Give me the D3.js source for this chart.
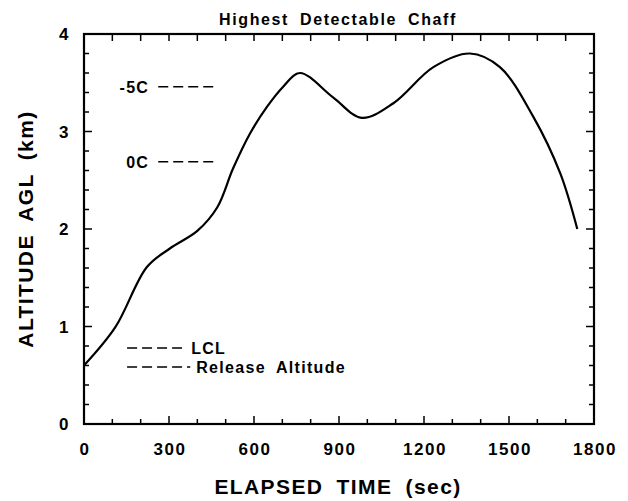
<!DOCTYPE html>
<html>
<head>
    <script src="https://d3js.org/d3.v7.min.js"></script>
    <style>
        body {margin: 0; background: #fff; font-family: Arial, Helvetica, sans-serif;}
        .tick-label {font-size: 17px; font-weight: bold; letter-spacing: 1.5px;}
        .axis-title {font-size: 21px; font-weight: bold; letter-spacing: 1.4px; word-spacing: 6px;}
        .note {font-size: 16px; font-weight: bold; letter-spacing: 1.3px; word-spacing: 5px;}
        .chart-title {font-size: 16px; font-weight: bold; letter-spacing: 1.6px; word-spacing: 5px;}
    </style>
</head>
<body>
    <svg width="628" height="501"></svg>
    <script>
        // Chaff top altitude over time
        let times = [0, 110, 222, 303, 400, 470, 526, 586, 645, 703, 762, 879, 980, 1092, 1233, 1362, 1468, 1586, 1681, 1741];
        let altitudes = [0.6, 0.99, 1.61, 1.80, 1.98, 2.22, 2.62, 2.98, 3.25, 3.46, 3.60, 3.35, 3.14, 3.29, 3.66, 3.80, 3.66, 3.15, 2.57, 2.0];

        let xTicks = [0, 300, 600, 900, 1200, 1500, 1800];
        let yTicks = [0, 1, 2, 3, 4];

        // short dashed reference levels (label, altitude, start, end in sec)
        let levelNames = ["-5C", "0C"];
        let levelAlts = [3.46, 2.69];
        let levelStart = [262, 262];
        let levelEnd = [465, 465];

        // legend-style dashed entries in the lower left
        let keyNames = ["LCL", "Release Altitude"];
        let keyAlts = [0.78, 0.585];
        let keyStart = [152, 152];
        let keyEnd = [357, 375];

        let svg = d3.select("svg");
        let plotL = 84, plotR = 594, plotT = 34, plotB = 424;

        let x = d3.scaleLinear().domain([0, 1800]).range([plotL, plotR]);
        let y = d3.scaleLinear().domain([0, 4]).range([plotB, plotT]);

        // frame
        svg.append("rect")
            .attr("x", plotL).attr("y", plotT)
            .attr("width", plotR - plotL).attr("height", plotB - plotT)
            .attr("fill", "none").attr("stroke", "#000").attr("stroke-width", 2.2);

        // inward ticks on all four sides
        let xMinor = d3.range(0, 1801, 100);
        let yMinor = d3.range(0, 4.01, 0.2);
        xMinor.forEach(t => {
            let len = t % 300 === 0 ? 8 : 5;
            svg.append("line").attr("x1", x(t)).attr("x2", x(t))
                .attr("y1", plotB).attr("y2", plotB - len)
                .attr("stroke", "#000").attr("stroke-width", 1.5);
            svg.append("line").attr("x1", x(t)).attr("x2", x(t))
                .attr("y1", plotT).attr("y2", plotT + 7)
                .attr("stroke", "#000").attr("stroke-width", 1.5);
        });
        yMinor.forEach(v => {
            let major = Math.abs(v - Math.round(v)) < 1e-6;
            let len = major ? 8 : 5;
            svg.append("line").attr("y1", y(v)).attr("y2", y(v))
                .attr("x1", plotL).attr("x2", plotL + len)
                .attr("stroke", "#000").attr("stroke-width", 1.5);
            svg.append("line").attr("y1", y(v)).attr("y2", y(v))
                .attr("x1", plotR).attr("x2", plotR - len)
                .attr("stroke", "#000").attr("stroke-width", 1.5);
        });

        // tick labels
        svg.selectAll(".xl").data(xTicks).enter().append("text")
            .attr("class", "tick-label")
            .attr("x", d => x(d) + 1).attr("y", 455)
            .attr("text-anchor", "middle")
            .text(d => d);
        svg.selectAll(".yl").data(yTicks).enter().append("text")
            .attr("class", "tick-label")
            .attr("x", 70).attr("y", d => y(d) + 6)
            .attr("text-anchor", "end")
            .text(d => d);

        // titles
        svg.append("text").attr("class", "chart-title")
            .attr("x", 338).attr("y", 25).attr("text-anchor", "middle")
            .text("Highest Detectable Chaff");
        svg.append("text").attr("class", "axis-title")
            .attr("x", 338).attr("y", 494).attr("text-anchor", "middle")
            .text("ELAPSED TIME (sec)");
        svg.append("text").attr("class", "axis-title")
            .attr("transform", "translate(33," + ((plotT + plotB) / 2) + ") rotate(-90)")
            .attr("text-anchor", "middle")
            .text("ALTITUDE AGL (km)");

        // dashed levels
        levelNames.forEach((name, i) => {
            svg.append("line")
                .attr("x1", x(levelStart[i])).attr("x2", x(levelEnd[i]))
                .attr("y1", y(levelAlts[i])).attr("y2", y(levelAlts[i]))
                .attr("stroke", "#000").attr("stroke-width", 1.5)
                .attr("stroke-dasharray", "10,5");
            svg.append("text").attr("class", "note")
                .attr("x", x(levelStart[i]) - 9).attr("y", y(levelAlts[i]) + 6)
                .attr("text-anchor", "end")
                .text(name);
        });
        keyNames.forEach((name, i) => {
            svg.append("line")
                .attr("x1", x(keyStart[i])).attr("x2", x(keyEnd[i]))
                .attr("y1", y(keyAlts[i])).attr("y2", y(keyAlts[i]))
                .attr("stroke", "#000").attr("stroke-width", 1.5)
                .attr("stroke-dasharray", "10,5");
            svg.append("text").attr("class", "note")
                .attr("x", x(keyEnd[i]) + 6).attr("y", y(keyAlts[i]) + 6)
                .text(name);
        });

        // the curve
        let pts = times.map((t, i) => [t, altitudes[i]]);
        let line = d3.line()
            .x(d => x(d[0])).y(d => y(d[1]))
            .curve(d3.curveCatmullRom.alpha(0.5));
        svg.append("path").datum(pts)
            .attr("d", line)
            .attr("fill", "none").attr("stroke", "#000").attr("stroke-width", 2.2);
    </script>
</body>
</html>
